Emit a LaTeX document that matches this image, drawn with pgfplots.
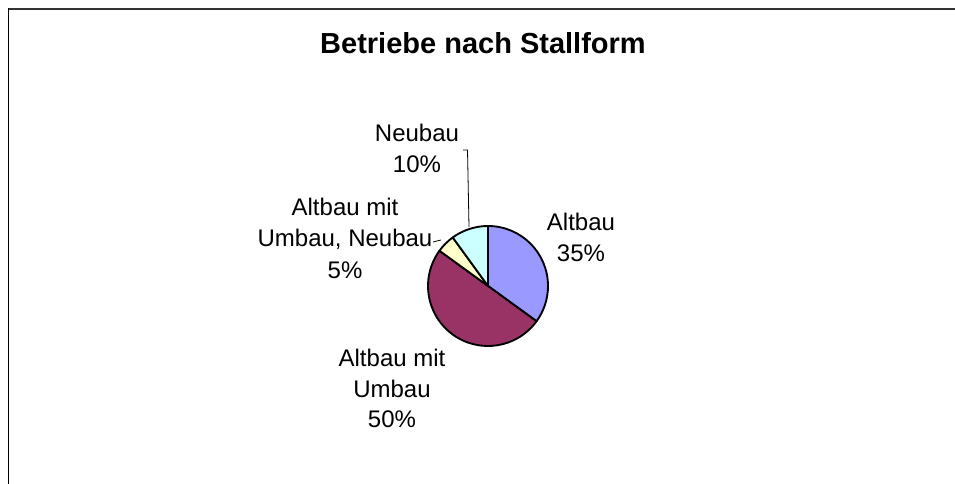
\documentclass[border=0pt]{standalone}
\usepackage{fontspec}
\setmainfont{Liberation Sans}
\usepackage{pgfplots}
\usepackage{pgfplotstable}
\pgfplotsset{compat=1.18}
\definecolor{sAltbau}{HTML}{9999FF}
\definecolor{sUmbau}{HTML}{993366}
\definecolor{sUmNeu}{HTML}{FFFFCC}
\definecolor{sNeubau}{HTML}{CCFFFF}
\tikzset{lbl/.style={font=\fontsize{18}{22}\selectfont, anchor=base, inner sep=0pt}}

% share of farms per stable type, in percent
\pgfplotstableread{
label value
Altbau 35
AltbauUmbau 50
AltbauUmbauNeubau 5
Neubau 10
}\piedata

\begin{document}
\begin{tikzpicture}
\pgfplotstablegetelem{0}{value}\of\piedata \let\va\pgfplotsretval
\pgfplotstablegetelem{1}{value}\of\piedata \let\vb\pgfplotsretval
\pgfplotstablegetelem{2}{value}\of\piedata \let\vc\pgfplotsretval
\pgfplotstablegetelem{3}{value}\of\piedata \let\vd\pgfplotsretval
\pgfmathsetmacro\aA{90}
\pgfmathsetmacro\aB{\aA-3.6*\va}
\pgfmathsetmacro\aC{\aB-3.6*\vb}
\pgfmathsetmacro\aD{\aC-3.6*\vc}
\pgfmathsetmacro\aE{\aD-3.6*\vd}
\def\R{45pt}
\begin{axis}[
  scale only axis, width=716.25pt, height=363pt,
  xmin=0, xmax=955, ymin=0, ymax=484, y dir=reverse,
  hide axis, clip=false,
]
% frame (only top and left edges visible)
\draw[black!80, line width=1.5pt] (axis cs:8,9) -- (axis cs:960,9);
\draw[black, line width=1.1pt] (axis cs:8.5,8) -- (axis cs:8.5,490);
% title
\node[anchor=base, inner sep=0pt, font=\fontsize{21.75}{26}\selectfont\bfseries] at (axis cs:483,54) {Betriebe nach Stallform};
% slices
\filldraw[fill=sAltbau, draw=black, line width=1.4pt, line join=round] (axis cs:488,286) -- ++(\aA:\R) arc[start angle=\aA, end angle=\aB, radius=\R] -- cycle;
\filldraw[fill=sUmbau, draw=black, line width=1.4pt, line join=round] (axis cs:488,286) -- ++(\aB:\R) arc[start angle=\aB, end angle=\aC, radius=\R] -- cycle;
\filldraw[fill=sUmNeu, draw=black, line width=1.4pt, line join=round] (axis cs:488,286) -- ++(\aC:\R) arc[start angle=\aC, end angle=\aD, radius=\R] -- cycle;
\filldraw[fill=sNeubau, draw=black, line width=1.4pt, line join=round] (axis cs:488,286) -- ++(\aD:\R) arc[start angle=\aD, end angle=\aE, radius=\R] -- cycle;
% leader lines
\draw[black, line width=0.6pt] (axis cs:463,150) -- (axis cs:467.5,150) -- (axis cs:469,227);
\draw[black, line width=0.6pt] (axis cs:433,242) -- (axis cs:441,240);
% labels
\node[lbl] at (axis cs:581,231) {Altbau};
\node[lbl] at (axis cs:581,262) {35\%};
\node[lbl] at (axis cs:417,142) {Neubau};
\node[lbl] at (axis cs:417,173) {10\%};
\node[lbl] at (axis cs:345,216) {Altbau mit};
\node[lbl] at (axis cs:345,247) {Umbau, Neubau};
\node[lbl] at (axis cs:345,278) {5\%};
\node[lbl] at (axis cs:392,366) {Altbau mit};
\node[lbl] at (axis cs:392,397) {Umbau};
\node[lbl] at (axis cs:392,427) {50\%};
\end{axis}
\pgfresetboundingbox
\path (0,0) rectangle (716.25pt,363pt);
\end{tikzpicture}
\end{document}
